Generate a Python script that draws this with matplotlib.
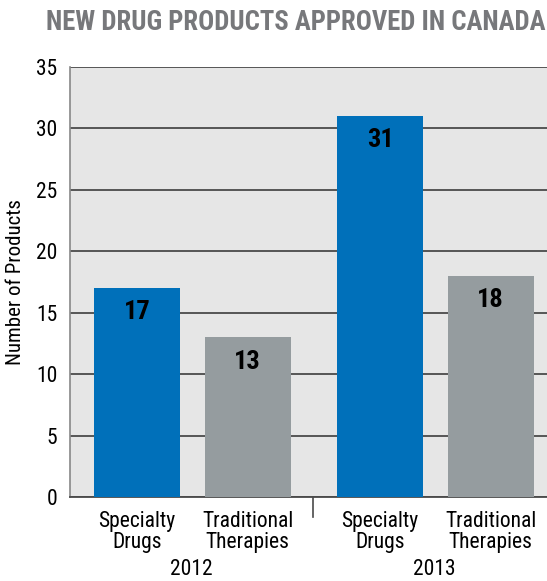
import matplotlib
matplotlib.use("Agg")
import matplotlib.pyplot as plt
from matplotlib import font_manager as fm
import matplotlib.transforms as mtransforms

# Data
years = ["2012", "2013"]
categories = ["Specialty\nDrugs", "Traditional\nTherapies"]
values_2012 = [17, 13]
values_2013 = [31, 18]
yticks = [0, 5, 10, 15, 20, 25, 30, 35]

title = "NEW DRUG PRODUCTS APPROVED IN CANADA"
ylabel = "Number of Products"

blue = "#0070BA"
gray = "#959C9F"
bg = "#E6E6E6"
grid_c = "#4a4a4a"
title_c = "#77787B"


def find_font(bold):
    cands = []
    for f in fm.fontManager.ttflist:
        nm = f.name + " " + f.fname
        cond = ("Narrow" in nm or "Condensed" in nm or
                str(f.stretch) in ("condensed", "semi-condensed", "extra-condensed", "ultra-condensed"))
        if not cond:
            continue
        w = f.weight if isinstance(f.weight, int) else (700 if "bold" in str(f.weight) else 400)
        isb = w >= 600
        if isb != bold or f.style != "normal":
            continue
        cands.append(f)
    if not cands:
        return None
    cands.sort(key=lambda f: (0 if "Liberation" in f.name else 1 if "Roboto" in f.name else 2))
    return fm.FontProperties(fname=cands[0].fname)


reg = find_font(False)
bld = find_font(True)
if reg is None:
    reg = fm.FontProperties(family="DejaVu Sans", stretch="condensed")
if bld is None:
    bld = fm.FontProperties(family="DejaVu Sans", stretch="condensed", weight="bold")


def fp(base, size):
    p = base.copy()
    p.set_size(size)
    return p


fig = plt.figure(figsize=(5.47, 5.81), dpi=100)
W, H = 547, 581
left, right, top, bottom = 70, 556, 67, 497
ax = fig.add_axes([left / W, 1 - bottom / H, (right - left) / W, (bottom - top) / H])
ax.set_facecolor(bg)

offs = [0.276, 0.731]
width = 0.354
all_vals = [values_2012, values_2013]
colors = [blue, gray]
xpos, xlabels = [], []
for g, vals in enumerate(all_vals):
    for i, v in enumerate(vals):
        x = g + offs[i]
        ax.bar(x, v, width=width, color=colors[i], zorder=3)
        ax.annotate(str(v), (x, v), xytext=(0, -17.5), textcoords="offset points",
                    ha="center", va="center", fontproperties=fp(bld, 19),
                    color="black", zorder=4)
        xpos.append(x)
        xlabels.append(categories[i])

ax.set_xlim(0, 2)
ax.set_ylim(0, 35)
ax.set_yticks(yticks)
ax.set_yticklabels([str(t) for t in yticks], fontproperties=fp(reg, 15.5))
ax.tick_params(axis="y", length=0, pad=9)
ax.yaxis.grid(True, color=grid_c, linewidth=1.3, zorder=0)
ax.set_axisbelow(True)

ax.set_xticks(xpos)
ax.set_xticklabels(xlabels, fontproperties=fp(reg, 15.5), linespacing=1.0)
ax.tick_params(axis="x", length=0, pad=10)

trans = mtransforms.blended_transform_factory(ax.transData, ax.transAxes)
ax.plot([1, 1], [0, -0.047], transform=trans, color=grid_c, linewidth=1.2, clip_on=False)

for g, yr in enumerate(years):
    ax.text(g + 0.5, -0.169, yr, transform=trans, ha="center", va="center",
            fontproperties=fp(reg, 15.5))

for s in ["top", "right"]:
    ax.spines[s].set_visible(False)
ax.spines["left"].set_color("#888888")
ax.spines["left"].set_linewidth(1.2)
ax.spines["bottom"].set_color(grid_c)
ax.spines["bottom"].set_linewidth(1.3)

ax.set_ylabel(ylabel, fontproperties=fp(reg, 15), labelpad=8)

fig.text(1 - 2 / W, 1 - 23 / H, title, ha="right", va="center",
         fontproperties=fp(bld, 19.2), color=title_c)

fig.savefig("out.png", dpi=100)
